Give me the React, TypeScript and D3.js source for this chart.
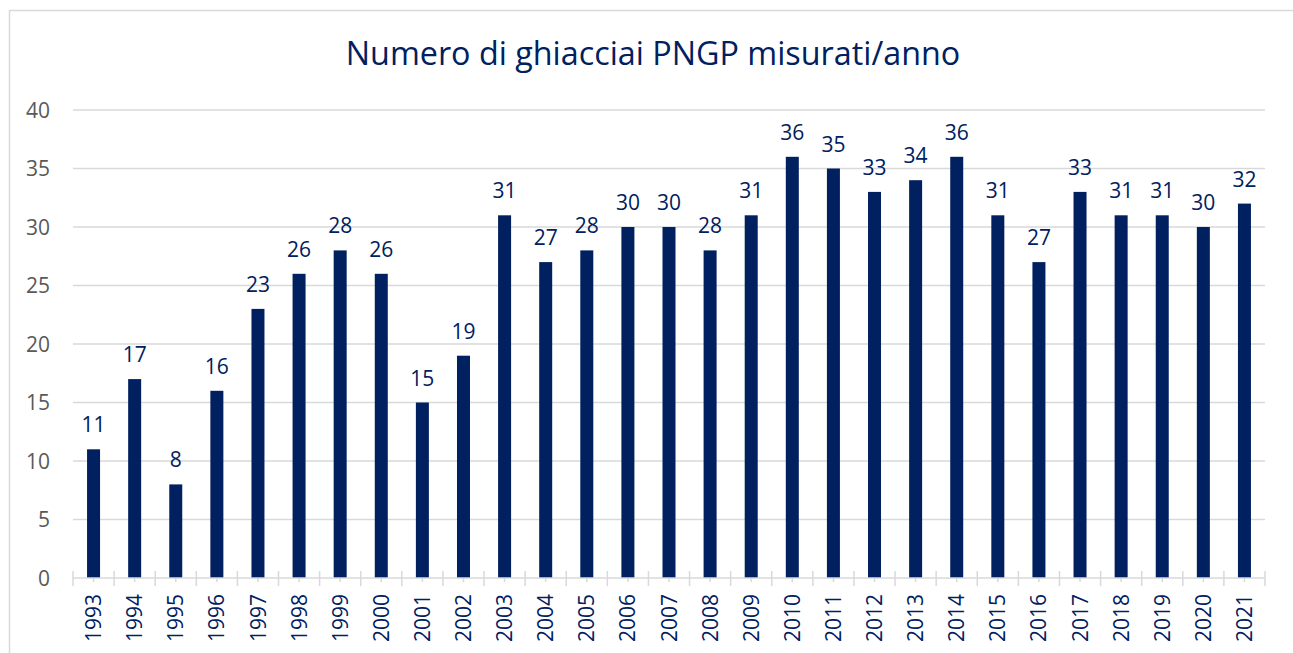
import React from 'react';
import * as d3 from 'd3';

const years = [
  '1993', '1994', '1995', '1996', '1997', '1998', '1999', '2000', '2001', '2002',
  '2003', '2004', '2005', '2006', '2007', '2008', '2009', '2010', '2011', '2012',
  '2013', '2014', '2015', '2016', '2017', '2018', '2019', '2020', '2021',
];
const counts = [
  11, 17, 8, 16, 23, 26, 28, 26, 15, 19,
  31, 27, 28, 30, 30, 28, 31, 36, 35, 33,
  34, 36, 31, 27, 33, 31, 31, 30, 32,
];
const yTicks = [0, 5, 10, 15, 20, 25, 30, 35, 40];

const W = 1293;
const H = 653;
const navy = '#002060';
const font = "'Open Sans', sans-serif";

const App = () => {
  const x = d3.scaleBand().domain(years).range([73, 1265]).paddingInner(0).paddingOuter(0);
  const y = d3.scaleLinear().domain([0, 40]).range([578, 110]);
  const bw = 13;

  return (
    <svg width={W} height={H} style={{ position: 'absolute', left: 0, top: 0 }}>
      <rect x={0} y={0} width={W} height={H} fill="#fff" />
      <rect x={9.5} y={10.5} width={W + 20} height={H + 20} fill="none" stroke="#d9d9d9" strokeWidth={1.5} />
      <text x={653} y={65} textAnchor="middle" fontFamily={font} fontSize={32.3} fill={navy}>
        Numero di ghiacciai PNGP misurati/anno
      </text>

      {/* gridlines + y labels */}
      {yTicks.map(t => (
        <g key={'g' + t}>
          {t > 0 && <line x1={73} x2={1265} y1={y(t)} y2={y(t)} stroke="#d9d9d9" strokeWidth={1.5} />}
          <text x={50} y={y(t)} dy="0.36em" textAnchor="end" fontFamily={font} fontSize={21} fill="#595959">
            {t}
          </text>
        </g>
      ))}

      {/* bars */}
      {years.map((yr, i) => {
        const cx = (x(yr) as number) + x.bandwidth() / 2;
        return (
          <g key={yr}>
            <rect x={cx - bw / 2} y={y(counts[i])} width={bw} height={y(0) - y(counts[i])} fill={navy} />
            <text x={cx} y={y(counts[i]) - 17} textAnchor="middle" fontFamily={font} fontSize={21} fill={navy}>
              {counts[i]}
            </text>
            <line x1={cx} x2={cx} y1={578} y2={582} stroke="#d9d9d9" strokeWidth={1.5} />
            <text
              transform={`translate(${cx},594) rotate(-90)`}
              textAnchor="end"
              dy="0.36em"
              fontFamily={font}
              fontSize={21}
              fill={navy}
            >
              {yr}
            </text>
          </g>
        );
      })}

      {/* x axis */}
      <line x1={73} x2={1265} y1={578} y2={578} stroke="#d9d9d9" strokeWidth={1.5} />
      {[...years.map(yr => x(yr) as number), 1265].map((bx, i) => (
        <line key={'t' + i} x1={bx} x2={bx} y1={571} y2={586} stroke="#d9d9d9" strokeWidth={1.5} />
      ))}
    </svg>
  );
};

export default App;
